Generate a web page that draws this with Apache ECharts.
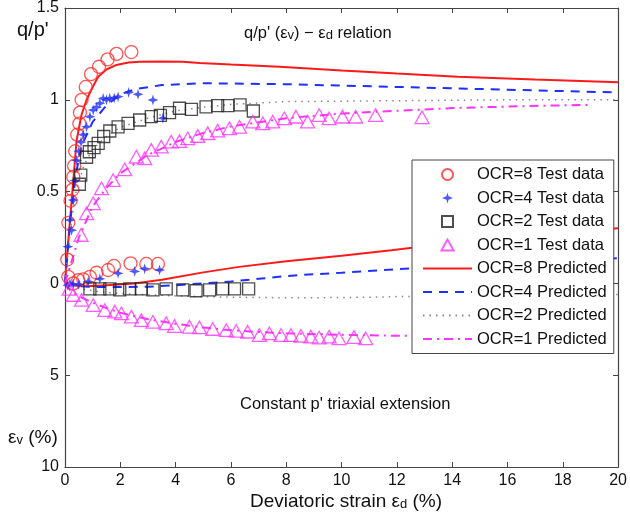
<!DOCTYPE html>
<html>
<head>
<meta charset="utf-8">
<script src="https://cdn.jsdelivr.net/npm/echarts@6/dist/echarts.min.js"></script>
<style>
  html, body { margin: 0; padding: 0; background: #fff; }
  #main { width: 630px; height: 521px; }
</style>
</head>
<body>
<div id="main"></div>
<script>
  // x 轴刻度
  var xTicks = [0, 2, 4, 6, 8, 10, 12, 14, 16, 18, 20]

  // 试验数据 q/p'
  var ocr8QX = [0.08, 0.12, 0.2, 0.27, 0.3, 0.33, 0.37, 0.44, 0.52, 0.54, 0.6, 0.75, 0.94, 1.23, 1.54, 1.86, 2.4]
  var ocr8QY = [0.13, 0.33, 0.45, 0.51, 0.58, 0.64, 0.72, 0.81, 0.87, 0.93, 1.0, 1.07, 1.14, 1.18, 1.22, 1.25, 1.26]
  var ocr4QX = [0.1, 0.18, 0.24, 0.3, 0.36, 0.42, 0.5, 0.58, 0.66, 0.78, 0.9, 1.02, 1.14, 1.26, 1.38, 1.5, 1.62, 1.78, 1.92, 2.3, 2.64, 3.18, 3.54]
  var ocr4QY = [0.2, 0.345, 0.29, 0.454, 0.56, 0.67, 0.72, 0.77, 0.81, 0.853, 0.908, 0.944, 0.96, 0.981, 1.008, 1.0, 1.008, 1.01, 1.017, 1.04, 1.03, 0.999, 0.9]
  var ocr2QX = [0.52, 0.57, 0.78, 0.88, 1.05, 1.2, 1.4, 1.62, 1.92, 2.28, 2.7, 3.12, 3.45, 3.78, 4.14, 4.57, 5.1, 5.52, 5.89, 6.33, 6.81]
  var ocr2QY = [0.54, 0.59, 0.687, 0.717, 0.74, 0.763, 0.8, 0.83, 0.853, 0.872, 0.89, 0.908, 0.915, 0.93, 0.954, 0.948, 0.962, 0.968, 0.968, 0.972, 0.939]
  var ocr1QX = [0.58, 0.78, 1.02, 1.32, 1.74, 2.16, 2.58, 2.88, 3.12, 3.48, 3.84, 4.14, 4.44, 4.8, 5.16, 5.52, 5.95, 6.31, 6.79, 7.15, 7.51, 7.93, 8.35, 8.77, 9.19, 9.55, 10.03, 10.51, 11.23, 12.91]
  var ocr1QY = [0.264, 0.382, 0.436, 0.518, 0.563, 0.621, 0.69, 0.681, 0.727, 0.745, 0.772, 0.775, 0.79, 0.803, 0.818, 0.832, 0.845, 0.853, 0.881, 0.872, 0.881, 0.899, 0.908, 0.881, 0.917, 0.899, 0.908, 0.908, 0.917, 0.905]

  // 试验数据 εv (%)
  var ocr8EX = [0.12, 0.3, 0.48, 0.66, 0.9, 1.14, 1.56, 1.77, 2.37, 2.94, 3.36]
  var ocr8EV = [-0.36, 0, -0.18, -0.22, -0.36, -0.58, -0.73, -0.95, -1.09, -1.06, -1.06]
  var ocr4EX = [0.1, 0.18, 0.3, 0.5, 0.84, 1.26, 1.92, 2.52, 2.88, 3.42]
  var ocr4EV = [0.1, 0, 0.05, 0.05, -0.1, -0.25, -0.55, -0.65, -0.8, -0.73]
  var ocr2EX = [0.9, 1.26, 1.62, 1.98, 2.34, 2.76, 3.18, 3.66, 4.26, 4.74, 5.23, 5.7, 6.13, 6.64]
  var ocr2EV = [0.3, 0.3, 0.3, 0.35, 0.3, 0.3, 0.35, 0.3, 0.35, 0.4, 0.35, 0.3, 0.3, 0.3]
  var ocr1EX = [0.15, 0.3, 0.6, 1.02, 1.44, 1.8, 2.04, 2.4, 2.76, 3.18, 3.66, 3.96, 4.5, 4.86, 5.34, 5.83, 6.19, 6.6, 7.03, 7.39, 7.81, 8.17, 8.53, 8.89, 9.19, 9.55, 9.91, 10.45, 10.87]
  var ocr1EV = [0.3, 0.63, 0.9, 1.18, 1.45, 1.54, 1.63, 1.81, 2.0, 2.09, 2.17, 2.32, 2.36, 2.39, 2.48, 2.54, 2.58, 2.63, 2.81, 2.72, 2.81, 2.81, 2.86, 2.9, 2.95, 2.9, 2.99, 2.92, 2.99]

  // 预测曲线 q/p'
  var pred8QX = [0, 0.1, 0.24, 0.42, 0.6, 0.78, 1.0, 1.2, 1.5, 1.86, 2.3, 2.7, 3.5, 4.25, 4.86, 6, 7.75, 10, 12, 14.2, 17, 20]
  var pred8Q = [0, 0.2, 0.45, 0.78, 0.92, 1.0, 1.07, 1.126, 1.165, 1.19, 1.203, 1.207, 1.209, 1.207, 1.2, 1.192, 1.18, 1.16, 1.143, 1.126, 1.11, 1.095]
  var pred4QX = [0, 0.2, 0.4, 0.6, 1.0, 1.5, 2.0, 2.6, 3.5, 5, 8, 12, 16, 20]
  var pred4Q = [0, 0.35, 0.6, 0.75, 0.88, 0.97, 1.03, 1.06, 1.08, 1.09, 1.085, 1.07, 1.055, 1.04]
  var pred2QX = [0, 0.2, 0.4, 0.7, 1.0, 1.5, 2, 3, 4, 5, 6, 8, 12, 16, 20]
  var pred2Q = [0, 0.3, 0.5, 0.65, 0.73, 0.8, 0.85, 0.9, 0.94, 0.96, 0.975, 0.99, 0.995, 1.0, 1.0]
  var pred1QX = [0, 0.2, 0.5, 1, 1.5, 2, 3, 4, 5, 6, 8, 10, 12, 14, 16, 18, 19]
  var pred1Q = [0, 0.1, 0.25, 0.42, 0.52, 0.6, 0.7, 0.77, 0.82, 0.855, 0.9, 0.925, 0.94, 0.955, 0.963, 0.97, 0.972]

  // 预测曲线 εv (%)
  var pred8EX = [0, 0.3, 0.8, 1.5, 2.5, 3.5, 5, 6.3, 8, 10, 11.8, 14, 16, 18, 20]
  var pred8EV = [0, 0.1, 0.15, 0.1, 0, -0.2, -0.6, -0.9, -1.2, -1.5, -1.8, -2.2, -2.5, -2.8, -3.0]
  var pred4EX = [0, 0.5, 1, 2, 3, 4, 5, 6, 7, 8, 9, 10, 12, 14, 16, 18, 20]
  var pred4EV = [0, 0.15, 0.2, 0.2, 0.18, 0.1, 0, -0.1, -0.25, -0.4, -0.5, -0.58, -0.77, -0.95, -1.1, -1.25, -1.37]
  var pred2EX = [0, 0.3, 0.6, 1, 1.5, 2, 3, 4, 5, 6, 7, 8, 9, 10, 11, 12, 14, 16, 18, 20]
  var pred2EV = [0, 0.15, 0.3, 0.4, 0.5, 0.55, 0.62, 0.68, 0.72, 0.75, 0.77, 0.78, 0.78, 0.77, 0.75, 0.72, 0.68, 0.65, 0.62, 0.6]
  var pred1EX = [0, 0.2, 0.5, 1, 1.5, 2, 3, 4, 5, 6, 7, 8, 10, 12, 14, 16, 18, 19]
  var pred1EV = [0, 0.4, 0.7, 1.05, 1.35, 1.6, 1.95, 2.2, 2.4, 2.55, 2.65, 2.72, 2.8, 2.85, 2.88, 2.9, 2.91, 2.92]

  var names = ['OCR=8 Test data', 'OCR=4 Test data', 'OCR=2 Test data', 'OCR=1 Test data',
      'OCR=8 Predicted', 'OCR=4 Predicted', 'OCR=2 Predicted', 'OCR=1 Predicted']

  // q/p' 直接画; εv 向下画, 10% 对应 -1
  function qPts(xs, ys) {
      return xs.map(function(x, i) { return [x, ys[i]] })
  }
  function evPts(xs, evs) {
      return xs.map(function(x, i) { return [x, -evs[i] / 10] })
  }

  var font = 'Liberation Sans, Arial, sans-serif'
  var starPath = 'path://M50,0 L60,35 L100,50 L60,65 L50,100 L40,65 L0,50 L40,35 Z'
  var rectPath = 'path://M0,0 L100,0 L100,100 L0,100 Z'
  var triPath = 'path://M50,0 L100,90 L0,90 Z'
  var circPath = 'path://M50,0 A50,50 0 1 1 49.9,0 Z'

  function testSeries(name, symbol, size, color, filled, qx, qy, ex, ev) {
      return {
          name: name,
          type: 'scatter',
          symbol: symbol,
          symbolSize: size,
          symbolKeepAspect: true,
          itemStyle: {
              color: filled ? color : 'rgba(255,255,255,0)',
              borderColor: color,
              borderWidth: filled ? 0 : 1.3
          },
          z: 3,
          data: qPts(qx, qy).concat(evPts(ex, ev))
      }
  }

  function predSeries(name, color, type, width, pts) {
      return {
          name: name,
          type: 'line',
          symbol: 'none',
          smooth: false,
          lineStyle: { color: color, type: type, width: width },
          itemStyle: { color: color },
          z: 2,
          data: pts
      }
  }

  var dash4 = [9, 7]
  var dot2 = [1.5, 5]
  var dashDot1 = [9, 5, 2, 5]

  // 预测曲线的图例只显示线, 隐藏中间的点
  var noDot = { color: 'rgba(0,0,0,0)', borderWidth: 0, opacity: 0 }
  var legendData = [
      { name: names[0], icon: circPath },
      { name: names[1], icon: starPath },
      { name: names[2], icon: rectPath },
      { name: names[3], icon: triPath },
      { name: names[4], itemStyle: noDot },
      { name: names[5], itemStyle: noDot },
      { name: names[6], itemStyle: noDot },
      { name: names[7], itemStyle: noDot }
  ]

  var sub = { fontFamily: font, fontSize: 13, verticalAlign: 'bottom', lineHeight: 10, fill: '#111' }

  var myChart = echarts.init(document.getElementById('main'))
  option = {
      animation: false,
      backgroundColor: '#fff',
      grid: { left: 65, right: 10, top: 8, bottom: 54, show: false },
      legend: {
          data: legendData,
          orient: 'vertical',
          left: 412,
          top: 160,
          width: 203,
          itemWidth: 49,
          itemHeight: 11,
          itemGap: 6.5,
          symbolKeepAspect: true,
          padding: [6, 7, 6, 10],
          backgroundColor: '#fff',
          borderColor: '#444',
          borderWidth: 1,
          borderRadius: 0,
          textStyle: { fontFamily: font, fontSize: 16.5, color: '#111' }
      },
      xAxis: [{
          type: 'value',
          min: 0,
          max: 20,
          interval: 2,
          axisLine: { show: true, onZero: false, lineStyle: { color: '#444', width: 1.2 } },
          axisTick: { show: true, inside: true, length: 5, lineStyle: { color: '#444' } },
          axisLabel: { fontFamily: font, fontSize: 16, color: '#111', margin: 6 },
          splitLine: { show: false }
      }, {
          type: 'value',
          position: 'top',
          min: 0,
          max: 20,
          interval: 2,
          axisLine: { show: true, onZero: false, lineStyle: { color: '#444', width: 1.2 } },
          axisTick: { show: true, inside: true, length: 5, lineStyle: { color: '#444' } },
          axisLabel: { show: false },
          splitLine: { show: false }
      }],
      yAxis: [{
          type: 'value',
          min: -1,
          max: 1.5,
          interval: 0.5,
          axisLine: { show: true, onZero: false, lineStyle: { color: '#444', width: 1.2 } },
          axisTick: { show: true, inside: true, length: 5, lineStyle: { color: '#444' } },
          axisLabel: {
              fontFamily: font,
              fontSize: 16,
              color: '#111',
              margin: 6,
              formatter: function(v) {
                  if (v < 0) return String(Math.round(-v * 10))
                  return String(v)
              }
          },
          splitLine: { show: false }
      }, {
          type: 'value',
          position: 'right',
          min: -1,
          max: 1.5,
          interval: 0.5,
          axisLine: { show: true, onZero: false, lineStyle: { color: '#444', width: 1.2 } },
          axisTick: { show: true, inside: true, length: 5, lineStyle: { color: '#444' } },
          axisLabel: { show: false },
          splitLine: { show: false }
      }],
      graphic: [{
          type: 'text',
          left: 17,
          top: 20,
          style: { text: "q/p'", fontFamily: font, fontSize: 20, fill: '#111' }
      }, {
          type: 'text',
          left: 244,
          top: 25,
          style: {
              text: "q/p' (ε{s|v}) − ε{s|d} relation",
              fontFamily: font,
              fontSize: 16.5,
              fill: '#111',
              rich: { s: sub }
          }
      }, {
          type: 'text',
          left: 240,
          top: 396,
          style: { text: "Constant p' triaxial extension", fontFamily: font, fontSize: 16.5, fill: '#111' }
      }, {
          type: 'text',
          left: 8,
          top: 428,
          style: {
              text: 'ε{s|v} (%)',
              fontFamily: font,
              fontSize: 19,
              fill: '#111',
              rich: { s: sub }
          }
      }, {
          type: 'text',
          left: 250,
          top: 492,
          style: {
              text: 'Deviatoric strain ε{s|d} (%)',
              fontFamily: font,
              fontSize: 19,
              fill: '#111',
              rich: { s: sub }
          }
      }],
      series: [
          testSeries(names[0], circPath, 13, '#ff2a2a', false, ocr8QX, ocr8QY, ocr8EX, ocr8EV),
          testSeries(names[1], starPath, 11, '#1f2fff', true, ocr4QX, ocr4QY, ocr4EX, ocr4EV),
          testSeries(names[2], rectPath, 12, '#222', false, ocr2QX, ocr2QY, ocr2EX, ocr2EV),
          testSeries(names[3], triPath, 14, '#ff33ff', false, ocr1QX, ocr1QY, ocr1EX, ocr1EV),
          predSeries(names[4], '#ff1a1a', 'solid', 2, qPts(pred8QX, pred8Q)),
          predSeries(names[4], '#ff1a1a', 'solid', 2, evPts(pred8EX, pred8EV)),
          predSeries(names[5], '#1f2fff', dash4, 2, qPts(pred4QX, pred4Q)),
          predSeries(names[5], '#1f2fff', dash4, 2, evPts(pred4EX, pred4EV)),
          predSeries(names[6], '#888', dot2, 1.5, qPts(pred2QX, pred2Q)),
          predSeries(names[6], '#888', dot2, 1.5, evPts(pred2EX, pred2EV)),
          predSeries(names[7], '#ff33ff', dashDot1, 2, qPts(pred1QX, pred1Q)),
          predSeries(names[7], '#ff33ff', dashDot1, 2, evPts(pred1EX, pred1EV))
      ]
  }
  myChart.setOption(option)
</script>
</body>
</html>
